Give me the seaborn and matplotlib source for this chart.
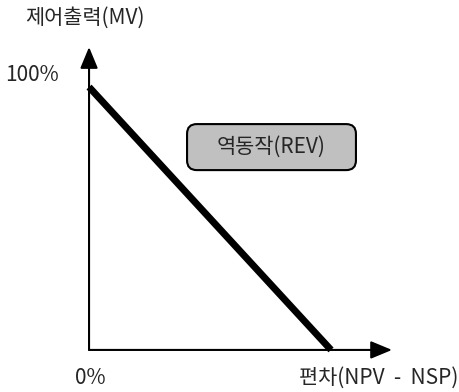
import matplotlib
matplotlib.use('Agg')
import matplotlib.pyplot as plt
from matplotlib.patches import FancyBboxPatch
import seaborn as sns
import pandas as pd

# 데이터: 역동작(REV) 특성 - 편차가 커질수록 출력 감소
deviation = [0, 100]
output = [100, 0]
y_label = '제어출력(MV)'
x_label = '편차(NPV  -  NSP)'
y_top_label = '100%'
origin_label = '0%'
box_label = '역동작(REV)'

df = pd.DataFrame({'deviation': deviation, 'output': output})

sns.set_theme(style='white')
plt.rcParams['font.family'] = ['Noto Sans CJK KR', 'DejaVu Sans']

fig = plt.figure(figsize=(4.6, 3.92), dpi=100)
ax = fig.add_axes([0, 0, 1, 1])
ax.set_xlim(-36.8, 153.3)
ax.set_ylim(-16.0, 133.1)
ax.axis('off')

# 축 화살표
arrow_style = '-|>,head_length=0.65,head_width=0.27'
ax.annotate('', xy=(0, 115.2), xytext=(0, 0),
            arrowprops=dict(arrowstyle=arrow_style, lw=1.5, color='black',
                            mutation_scale=20, shrinkA=0, shrinkB=0))
ax.annotate('', xy=(125.2, 0), xytext=(0, 0),
            arrowprops=dict(arrowstyle=arrow_style, lw=1.5, color='black',
                            mutation_scale=20, shrinkA=0, shrinkB=0))

# 제어출력 직선
sns.lineplot(data=df, x='deviation', y='output', ax=ax, color='black',
             linewidth=5, solid_capstyle='butt')

# 라벨 박스
box = FancyBboxPatch((40.5, 68.4), 69.8, 17.5,
                     boxstyle='round,pad=0,rounding_size=4',
                     mutation_aspect=0.92, facecolor='#c0c0c0',
                     edgecolor='black', linewidth=1.5)
ax.add_patch(box)
ax.text(75.4, 77.1, box_label, ha='center', va='center', fontsize=15)

# 텍스트
ax.text(-26.4, 126.2, y_label, ha='left', va='center', fontsize=15)
ax.text(-34.5, 104.6, y_top_label, ha='left', va='center', fontsize=15)
ax.text(-5.8, -10.6, origin_label, ha='left', va='center', fontsize=15)
ax.text(152.5, -10.6, x_label, ha='right', va='center', fontsize=15)

fig.savefig('out.png', dpi=100)
